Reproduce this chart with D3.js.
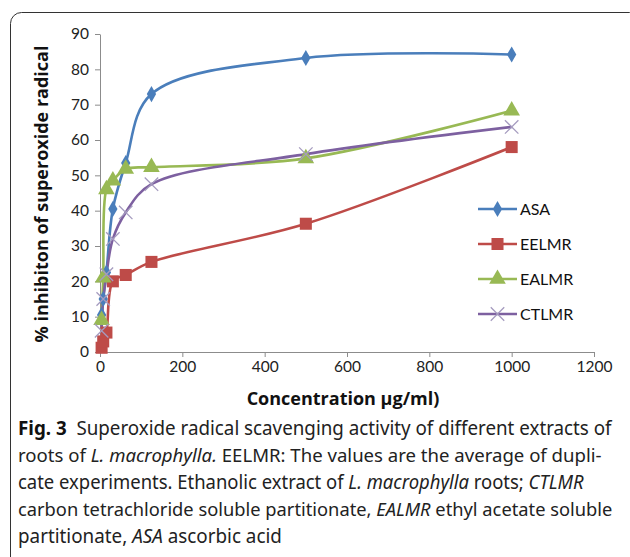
<!DOCTYPE html>
<html>
<head>
    <meta charset="utf-8">
    <title>Superoxide radical scavenging</title>
    <style>
        body { margin: 0; background: #fff; }
        .axis path, .axis line { stroke: #8c8c8c; }
        .axis text { font-family: Lato, "Open Sans", sans-serif; font-size: 15.5px; fill: #222; }
        .title { font-family: "Open Sans", Lato, sans-serif; font-weight: bold; font-size: 18px; fill: #111; }
        .legend text { font-family: Lato, "Open Sans", sans-serif; font-size: 16px; fill: #111; }
        .caption { font-family: "Noto Sans", "Open Sans", sans-serif; font-size: 19px; fill: #222; }
    </style>
</head>
<body>
    <script src="https://cdnjs.cloudflare.com/ajax/libs/d3/7.8.5/d3.min.js"></script>
    <script>
        const width = 630;
        const height = 557;

        // concentrations (µg/ml) and % inhibition per extract
        const conc = [3.9, 7.8, 15.6, 31.25, 62.5, 125, 500, 1000];
        const asa = [10.5, 15, 22.5, 40.5, 53.5, 73, 83.2, 84.2];
        const eelmr = [1.2, 3, 5.5, 20, 21.8, 25.5, 36.3, 58];
        const ealmr = [9, 21, 46, 48.5, 51.8, 52.3, 54.8, 68.3];
        const ctlmr = [6, 15, 22, 32, 39.5, 47.5, 56, 63.7];
        const seriesNames = ["ASA", "EELMR", "EALMR", "CTLMR"];
        const xTicks = [0, 200, 400, 600, 800, 1000, 1200];
        const yTicks = [0, 10, 20, 30, 40, 50, 60, 70, 80, 90];

        const series = [
            {name: "ASA", values: asa, color: "#4a7ebb", marker: "diamond"},
            {name: "EELMR", values: eelmr, color: "#be4b48", marker: "square"},
            {name: "EALMR", values: ealmr, color: "#98b954", marker: "triangle"},
            {name: "CTLMR", values: ctlmr, color: "#7d60a0", marker: "cross"}
        ];

        const svg = d3.select("body").append("svg")
            .attr("width", width)
            .attr("height", height);

        // outer frame
        svg.append("rect")
            .attr("x", 10.5).attr("y", 12.5)
            .attr("width", 630).attr("height", 556)
            .attr("rx", 11)
            .attr("fill", "none")
            .attr("stroke", "#333")
            .attr("stroke-width", 1);

        const x = d3.scaleLinear().domain([0, 1200]).range([100, 594]);
        const y = d3.scaleLinear().domain([0, 90]).range([352, 34]);

        svg.append("g")
            .attr("class", "axis")
            .attr("transform", `translate(0,${y(0)})`)
            .call(d3.axisBottom(x).tickValues(xTicks).tickFormat(d3.format("d"))
                .tickSize(5).tickSizeOuter(0).tickPadding(4));

        svg.append("g")
            .attr("class", "axis")
            .attr("transform", `translate(${x(0)},0)`)
            .call(d3.axisLeft(y).tickValues(yTicks).tickSize(5).tickSizeOuter(0).tickPadding(6));

        svg.append("text")
            .attr("class", "title")
            .attr("x", 343).attr("y", 405)
            .attr("text-anchor", "middle")
            .text("Concentration µg/ml)");

        svg.append("text")
            .attr("class", "title")
            .attr("transform", "translate(48,194) rotate(-90)")
            .attr("text-anchor", "middle")
            .text("% inhibiton of superoxide radical");

        const symbols = {
            diamond: d3.symbol().type(d3.symbolDiamond).size(75),
            square: d3.symbol().type(d3.symbolSquare).size(145),
            triangle: d3.symbol().type(d3.symbolTriangle).size(120),
            cross: d3.symbol().type(d3.symbolX).size(120)
        };

        function drawMarker(g, s) {
            const p = g.append("path").attr("d", symbols[s.marker]());
            if (s.marker === "cross") {
                p.attr("fill", "none").attr("stroke", "#a59bbf").attr("stroke-width", 1.3);
            } else {
                p.attr("fill", s.color);
            }
        }

        const line = d3.line()
            .x((d, i) => x(conc[i]))
            .y(d => y(d))
            .curve(d3.curveCatmullRom.alpha(0.5));

        series.forEach(s => {
            svg.append("path")
                .datum(s.values)
                .attr("fill", "none")
                .attr("stroke", s.color)
                .attr("stroke-width", 2.6)
                .attr("d", line);
        });

        series.forEach(s => {
            s.values.forEach((v, i) => {
                const g = svg.append("g").attr("transform", `translate(${x(conc[i])},${y(v)})`);
                drawMarker(g, s);
            });
        });

        // legend
        const legend = svg.append("g").attr("class", "legend");
        const legendY = [209, 244, 279, 314];
        series.forEach((s, i) => {
            const g = legend.append("g").attr("transform", `translate(478,${legendY[i]})`);
            g.append("line").attr("x1", 0).attr("x2", 39)
                .attr("stroke", s.color).attr("stroke-width", 2.6);
            drawMarker(g.append("g").attr("transform", "translate(19.5,0)"), s);
            g.append("text").attr("x", 42).attr("y", 5.5).text(seriesNames[i]);
        });

        // caption, each line squeezed horizontally to the reference width
        const captionLines = [
            {len: 594, parts: [["Fig. 3", "bold"], ["  Superoxide radical scavenging activity of different extracts of", ""]]},
            {len: 584, parts: [["roots of ", ""], ["L. macrophylla.", "italic"], [" EELMR: The values are the average of dupli-", ""]]},
            {len: 566, parts: [["cate experiments. Ethanolic extract of ", ""], ["L. macrophylla", "italic"], [" roots; ", ""], ["CTLMR", "italic"]]},
            {len: 595, parts: [["carbon tetrachloride soluble partitionate, ", ""], ["EALMR", "italic"], [" ethyl acetate soluble", ""]]},
            {len: 264, parts: [["partitionate, ", ""], ["ASA", "italic"], [" ascorbic acid", ""]]}
        ];
        const captionY = [435, 462, 489, 516, 543];
        captionLines.forEach((ln, i) => {
            const g = svg.append("g");
            const t = g.append("text")
                .attr("class", "caption")
                .attr("x", 0).attr("y", 0)
                .attr("xml:space", "preserve");
            ln.parts.forEach(p => {
                const ts = t.append("tspan").text(p[0]);
                if (p[1] === "bold") ts.attr("font-weight", "bold").attr("fill", "#111");
                if (p[1] === "italic") ts.attr("font-style", "italic");
            });
            const w = t.node().getComputedTextLength();
            g.attr("transform", `translate(18,${captionY[i]}) scale(${ln.len / w},1)`);
        });
    </script>
</body>
</html>
